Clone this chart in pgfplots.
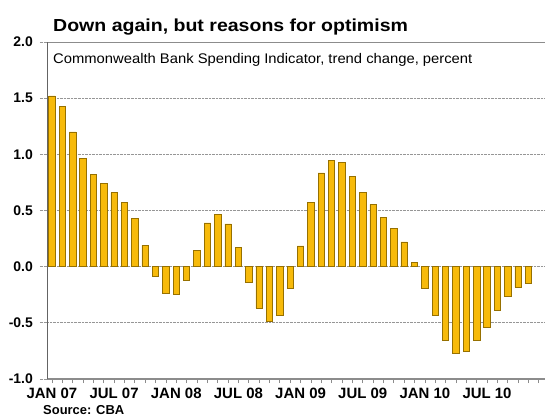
\documentclass[border=0pt]{standalone}
\usepackage{fontspec}
\setmainfont{Liberation Sans}
\newfontfamily\titlefont[FakeStretch=1.12]{Liberation Sans}
\newfontfamily\subfont[FakeStretch=1.06]{Liberation Sans}
\usepackage{pgfplots}
\pgfplotsset{compat=1.18}

\definecolor{barfill}{RGB}{247,186,10}
\definecolor{baredge}{RGB}{150,112,0}
\definecolor{axisdark}{RGB}{100,100,100}
\definecolor{axisgrey}{RGB}{140,140,140}
\definecolor{gridgrey}{RGB}{150,150,150}

\begin{document}
\begin{tikzpicture}[x=1bp,y=1bp]
\useasboundingbox (0,0) rectangle (545,417);
\begin{axis}[
  at={(47bp,38bp)}, anchor=south west,
  scale only axis, width=498bp, height=337bp,
  xmin=-0.48, xmax=47.6,
  ymin=-1, ymax=2,
  axis line style={draw=none},
  ytick={-1,-0.5,0,0.5,1,1.5,2},
  yticklabels={-1.0,-0.5,0.0,0.5,1.0,1.5,2.0},
  ytick pos=left, ytick align=outside,
  major tick length=7bp,
  y tick style={gridgrey, densely dotted, line width=0.8bp},
  yticklabel style={font=\bfseries\fontsize{14}{14}\selectfont, inner sep=0pt, xshift=-7bp},
  ymajorgrids,
  grid style={gridgrey, densely dotted, line width=0.8bp},
  xtick={0,6,...,42},
  xticklabels={JAN 07,JUL 07,JAN 08,JUL 08,JAN 09,JUL 09,JAN 10,JUL 10},
  xtick pos=bottom, xtick align=inside,
  major x tick style={draw=none},
  minor xtick={0,1,...,47},
  minor tick length=4bp,
  minor x tick style={axisgrey, line width=0.7bp},
  xticklabel style={font=\bfseries\fontsize{15}{15}\selectfont, yshift=1bp},
  ybar, bar width=6.4bp,
]
% monthly trend change, Jan 2007 - Nov 2010
\addplot[fill=barfill, draw=baredge, line width=0.7bp] coordinates {
  (0,1.52) (1,1.43) (2,1.20) (3,0.96) (4,0.82) (5,0.74) (6,0.66) (7,0.57)
  (8,0.43) (9,0.19) (10,-0.09) (11,-0.235) (12,-0.25) (13,-0.12)
  (14,0.145) (15,0.39) (16,0.465) (17,0.38) (18,0.175) (19,-0.14)
  (20,-0.37) (21,-0.49) (22,-0.43) (23,-0.19) (24,0.185) (25,0.57)
  (26,0.835) (27,0.945) (28,0.93) (29,0.805) (30,0.66) (31,0.555)
  (32,0.44) (33,0.34) (34,0.22) (35,0.035) (36,-0.19) (37,-0.435)
  (38,-0.655) (39,-0.77) (40,-0.75) (41,-0.66) (42,-0.54) (43,-0.385)
  (44,-0.26) (45,-0.185) (46,-0.15)
};
% frame: dark left spine, grey top and bottom
\draw[axisgrey, line width=1.2bp] (rel axis cs:0,0) -- (rel axis cs:1,0);
\draw[axisgrey, line width=2bp] (rel axis cs:0,1) -- (rel axis cs:1,1);
\draw[axisdark, line width=2.2bp] (rel axis cs:0,0) -- (rel axis cs:0,1);
\end{axis}
\node[anchor=base west, inner sep=0pt, font=\titlefont\bfseries\fontsize{17.5}{17.5}\selectfont] at (53,386) {Down again, but reasons for optimism};
\node[anchor=base west, inner sep=0pt, font=\subfont\fontsize{14}{14}\selectfont] at (53,354) {Commonwealth Bank Spending Indicator, trend change, percent};
\node[anchor=base west, inner sep=0pt, font=\bfseries\fontsize{13}{13}\selectfont] at (43,3) {Source: CBA};
\end{tikzpicture}
\end{document}
